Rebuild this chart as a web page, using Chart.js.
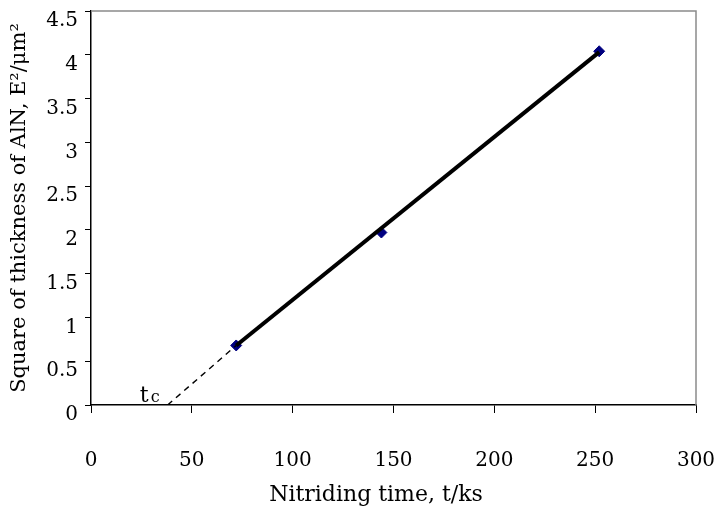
<!DOCTYPE html>
<html><head><meta charset="utf-8">
<script src="https://cdn.jsdelivr.net/npm/chart.js@4/dist/chart.umd.min.js"></script>
<style>html,body{margin:0;padding:0;background:#fff}#wrap{width:717px;height:512px}</style>
</head><body><div id="wrap"><canvas id="c" width="717" height="512"></canvas></div>
<script>
const timeKs = [72, 144, 252];
const sqThickness = [0.68, 1.97, 4.04];
const fitX = [72, 252];
const fitY = [0.68, 4.03];
const extX = [38, 72];
const extY = [0, 0.68];
const xTicks = [0, 50, 100, 150, 200, 250, 300];
const yTicks = [0, 0.5, 1, 1.5, 2, 2.5, 3, 3.5, 4, 4.5];
const tcLabel = ['t', 'c'];
const xTitle = 'Nitriding time, t/ks';
const yTitle = 'Square of thickness of AlN, E²/μm²';
const FONT = 'DejaVu Serif';

const pts = (xs, ys) => xs.map((x, i) => ({x, y: ys[i]}));

const frame = {
  id: 'frame',
  beforeDatasetsDraw(chart) {
    const {ctx, chartArea: a} = chart;
    ctx.save();
    ctx.strokeStyle = '#8a8a8a';
    ctx.lineWidth = 1.5;
    ctx.beginPath();
    ctx.moveTo(a.left, a.top); ctx.lineTo(a.right, a.top); ctx.lineTo(a.right, a.bottom);
    ctx.stroke();
    ctx.restore();
  },
  afterDatasetsDraw(chart) {
    const {ctx, scales} = chart;
    const x = scales.x.getPixelForValue(extX[0]);
    const y = scales.y.getPixelForValue(0);
    ctx.save();
    ctx.fillStyle = '#000';
    ctx.textBaseline = 'alphabetic';
    ctx.textAlign = 'left';
    ctx.font = '22px ' + FONT;
    ctx.fillText(tcLabel[0], x - 28, y - 3);
    ctx.font = '16px ' + FONT;
    ctx.fillText(tcLabel[1], x - 17, y - 3);
    ctx.restore();
  }
};

new Chart(document.getElementById('c'), {
  type: 'scatter',
  data: {
    datasets: [
      {data: pts(extX, extY), showLine: true, borderColor: '#000', borderWidth: 1.4, borderDash: [6, 5], pointRadius: 0},
      {data: pts(fitX, fitY), showLine: true, borderColor: '#000', borderWidth: 4, pointRadius: 0},
      {data: pts(timeKs, sqThickness), showLine: false, pointStyle: 'rectRot', pointRadius: 5.5, backgroundColor: '#000080', borderColor: '#000080', borderWidth: 1}
    ]
  },
  options: {
    responsive: false, animation: false, devicePixelRatio: 1,
    layout: {padding: {top: 11, right: 21, bottom: 0, left: 0}},
    plugins: {legend: {display: false}, tooltip: {enabled: false}},
    scales: {
      x: {
        type: 'linear', min: 0, max: 300,
        afterBuildTicks: s => { s.ticks = xTicks.map(v => ({value: v})); },
        afterFit: s => { s.height = 107; s.paddingLeft = 0; s.paddingRight = 0; },
        grid: {display: true, drawOnChartArea: false, tickLength: 8, color: '#000', lineWidth: 1},
        border: {color: '#000', width: 1.5},
        ticks: {color: '#000', padding: 36, font: {family: FONT, size: 20}, maxRotation: 0},
        title: {display: true, text: xTitle + '\u00a0'.repeat(5), color: '#000', font: {family: FONT, size: 22}, padding: {top: 0, bottom: 4}}
      },
      y: {
        type: 'linear', min: 0, max: 4.5,
        afterBuildTicks: s => { s.ticks = yTicks.map(v => ({value: v})); },
        afterFit: s => { s.width = 91; s.paddingTop = 0; s.paddingBottom = 0; },
        grid: {display: true, drawOnChartArea: false, tickLength: 6, color: '#000', lineWidth: 1},
        border: {color: '#000', width: 1.5},
        ticks: {color: '#000', padding: 7, labelOffset: 10, font: {family: FONT, size: 20}, callback: v => String(v)},
        title: {display: true, text: yTitle, color: '#000', font: {family: FONT, size: 21}, padding: {top: 7, bottom: 0}}
      }
    }
  },
  plugins: [frame]
});
</script></body></html>
